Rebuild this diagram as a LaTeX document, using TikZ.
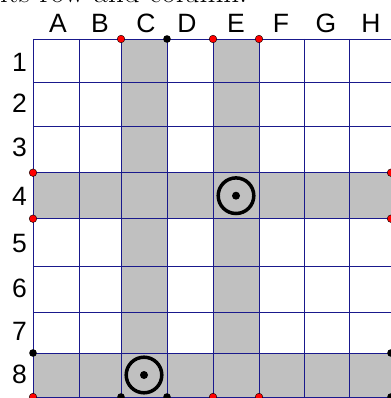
\documentclass[tikz,border=0pt]{standalone}
\usepackage{fontspec}
\newfontfamily\gridfont{Liberation Sans}
\definecolor{gridblue}{RGB}{25, 25, 140}
\definecolor{cellgray}{RGB}{192, 192, 192}
\definecolor{pinred}{RGB}{255, 0, 0}
\usetikzlibrary{positioning}

\tikzset{
  gridline/.style={gridblue, line width=0.9pt},
  axislabel/.style={anchor=base, font=\gridfont\fontsize{26.5}{31}\selectfont, inner sep=0pt},
  redpin/.style={fill=pinred, draw=black, line width=0.4pt},
  blackpin/.style={fill=black},
  target/.style={line width=3.5pt}
}

\begin{document}
\begin{tikzpicture}[x=1pt, y=-1pt]
  \useasboundingbox (0, 0) rectangle (390, 398);
  % caption line, cut off by the page edge
  \node[anchor=base west, inner sep=0pt, font=\fontsize{31}{36}\selectfont] (caption) at (0, 3) {its row and column.};
  % shaded row and columns
  \fill[cellgray] (121, 39) rectangle (167, 397);
  \fill[cellgray] (213, 39) rectangle (259, 397);
  \fill[cellgray] (33, 172.7) rectangle (391, 218.7);
  \fill[cellgray] (33, 353) rectangle (391, 397);
  % grid
  \foreach \x in {33, 79, 121, 167, 213, 259, 304, 349, 391}
    \draw[gridline] (\x, 39) -- (\x, 397);
  \foreach \y in {39, 82.7, 126.7, 172.7, 218.7, 266.7, 312.7, 353, 397}
    \draw[gridline] (33, \y) -- (391, \y);
  % column and row labels
  \foreach \lab/\x in {A/58, B/100, C/146, D/187, E/236, F/281, G/326, H/371}
    \node[axislabel] (col\lab) at (\x, 33) {\lab};
  \foreach \lab/\y in {1/72, 2/113, 3/157, 4/205, 5/252, 6/297, 7/340, 8/383}
    \node[axislabel] (row\lab) at (19.5, \y) {\lab};
  % pins on the border
  \foreach \x/\y in {121/39, 213/39, 259/39, 33/172.7, 33/218.7, 33/397, 391/172.7, 391/218.7, 213/397, 259/397}
    \fill[redpin] (\x, \y) circle (3.8);
  \foreach \x/\y in {167/39, 33/353, 391/353, 391/397, 121/397, 167/397}
    \fill[blackpin] (\x, \y) circle (3.8);
  % targets
  \draw[target] (236, 195.7) circle (17.8);
  \fill (236, 195.7) circle (4);
  \draw[target] (144, 375) circle (17.8);
  \fill (144, 375) circle (4);
\end{tikzpicture}
\end{document}
